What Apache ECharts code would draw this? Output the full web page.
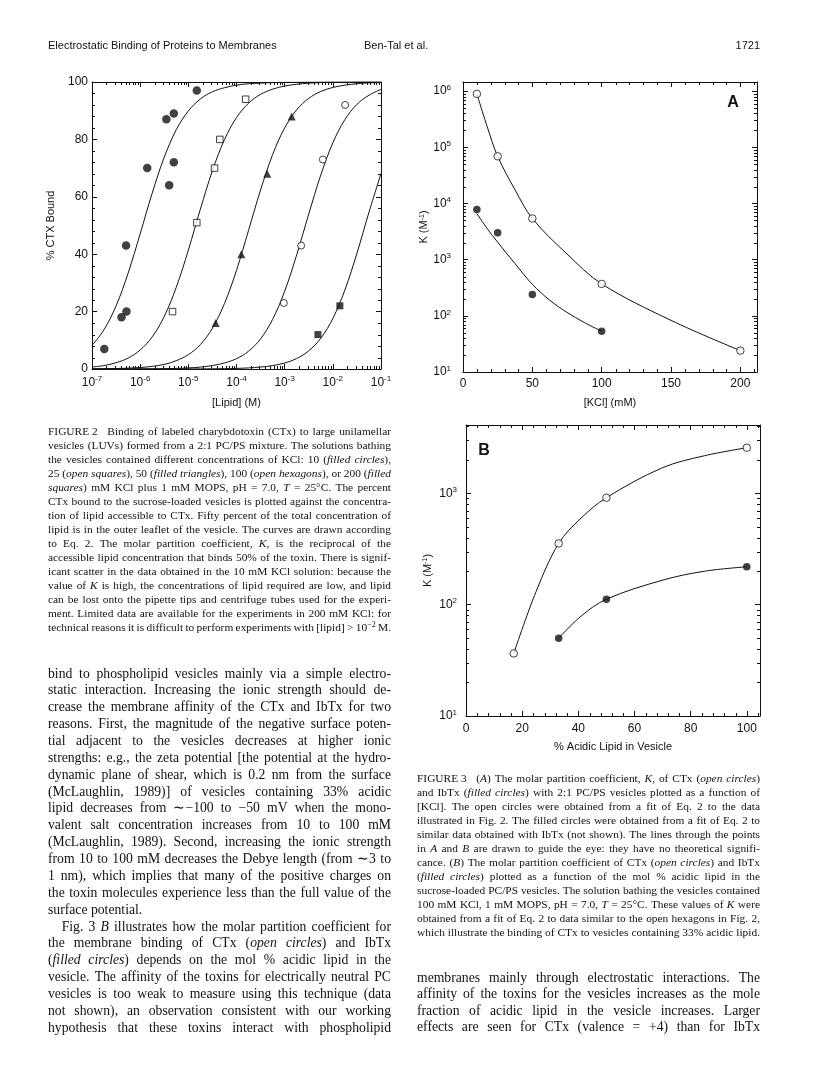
<!DOCTYPE html>
<html><head><meta charset="utf-8">
<script src="https://cdn.jsdelivr.net/npm/echarts@6/dist/echarts.min.js"></script>
<style>html,body{margin:0;padding:0;background:#fff;}#main{width:816px;height:1090px;}</style>
</head><body><div id="main"></div>
<script>
// ================= DATA =================
// Figure 2 : % CTx bound vs [Lipid] (M)
const fig2CurveX = [1e-7,1.778e-7,3.162e-7,5.623e-7,1e-6,1.778e-6,3.162e-6,5.623e-6,1e-5,1.778e-5,3.162e-5,5.623e-5,1e-4,1.778e-4,3.162e-4,5.623e-4,1e-3,1.778e-3,3.162e-3,5.623e-3,1e-2,1.778e-2,3.162e-2,5.623e-2,1e-1];
const fig2Curve10mM  = [8.2,13.7,22.0,33.4,47.1,61.3,73.8,83.4,89.9,94.1,96.6,98.0,98.9,99.4,99.6,99.8,99.9,99.9,100,100,100,100,100,100,100];
const fig2Curve25mM  = [0.7,1.2,2.2,3.8,6.6,11.2,18.3,28.5,41.4,55.7,69.1,79.9,87.6,92.6,95.7,97.5,98.6,99.2,99.6,99.8,99.9,99.9,100,100,100];
const fig2Curve50mM  = [0.05,0.09,0.17,0.29,0.52,0.92,1.6,2.9,5.0,8.5,14.2,22.8,34.4,48.3,62.4,74.7,84.0,90.3,94.3,96.7,98.1,98.9,99.4,99.7,99.8];
const fig2Curve100mM = [0,0.01,0.01,0.02,0.04,0.07,0.12,0.21,0.37,0.66,1.2,2.1,3.6,6.2,10.5,17.3,27.1,39.8,54.0,67.6,78.8,86.9,92.2,95.4,97.4];
const fig2Curve200mM = [0,0,0,0,0,0,0,0,0.02,0.04,0.07,0.12,0.21,0.38,0.67,1.19,2.09,3.66,6.33,10.7,17.6,27.5,40.3,54.6,68.1];

const fig2FilledCirclesX = [1.8e-7,4.1e-7,5.2e-7,5.1e-7,1.4e-6,4.0e-6,3.5e-6,5.0e-6,5.0e-6,1.5e-5];
const fig2FilledCirclesY = [7,18,20,43,70,64,87,89,72,97];
const fig2OpenSquaresX   = [4.7e-6,1.5e-5,3.5e-5,4.5e-5,1.55e-4];
const fig2OpenSquaresY   = [20,51,70,80,94];
const fig2TrianglesX     = [3.7e-5,1.26e-4,4.35e-4,1.4e-3];
const fig2TrianglesY     = [16,40,68,88];
const fig2OpenHexX       = [9.6e-4,2.2e-3,6.2e-3,1.8e-2];
const fig2OpenHexY       = [23,43,73,92];
const fig2FilledSquaresX = [4.9e-3,1.4e-2];
const fig2FilledSquaresY = [12,22];

// Figure 3A : K vs [KCl] (mM)
const fig3aCtxX  = [10,25,50,100,200];
const fig3aCtxK  = [8.9e5,6.9e4,5.4e3,370,24];
const fig3aIbtxX = [10,25,50,100];
const fig3aIbtxK = [7.8e3,3.0e3,240,53];
const fig3aCtxLineX  = [10,17.5,25,37.5,50,75,100,150,200];
const fig3aCtxLineK  = [8.9e5,2.3e5,6.9e4,1.75e4,5.4e3,1.26e3,370,83,24];
const fig3aIbtxLineX = [10,17.5,25,37.5,50,62.5,75,87.5,100];
const fig3aIbtxLineK = [6600,3550,2040,850,363,190,115,76,53];

// Figure 3B : K vs % acidic lipid
const fig3bCtxX  = [17,33,50,100];
const fig3bCtxK  = [36.5,355,914,2570];
const fig3bIbtxX = [33,50,100];
const fig3bIbtxK = [50,112,219];
const fig3bCtxLineX  = [17,25,33,41,50,70,85,100];
const fig3bCtxLineK  = [36.5,132,355,600,914,1700,2180,2570];
const fig3bIbtxLineX = [33,41,50,70,85,100];
const fig3bIbtxLineK = [50,79,112,166,200,219];

// minor tick values
const fig2XMinor = [2e-7,3e-7,4e-7,5e-7,6e-7,7e-7,8e-7,9e-7,2e-6,3e-6,4e-6,5e-6,6e-6,7e-6,8e-6,9e-6,2e-5,3e-5,4e-5,5e-5,6e-5,7e-5,8e-5,9e-5,2e-4,3e-4,4e-4,5e-4,6e-4,7e-4,8e-4,9e-4,2e-3,3e-3,4e-3,5e-3,6e-3,7e-3,8e-3,9e-3,2e-2,3e-2,4e-2,5e-2,6e-2,7e-2,8e-2,9e-2];
const fig2YMinor = [4,8,12,16,24,28,32,36,44,48,52,56,64,68,72,76,84,88,92,96];
const fig3aXMinor = [10,20,30,40,60,70,80,90,110,120,130,140,160,170,180,190,210];
const fig3aYMinor = [20,30,40,50,60,70,80,90,200,300,400,500,600,700,800,900,2e3,3e3,4e3,5e3,6e3,7e3,8e3,9e3,2e4,3e4,4e4,5e4,6e4,7e4,8e4,9e4,2e5,3e5,4e5,5e5,6e5,7e5,8e5,9e5];
const fig3bXMinor = [4,8,12,16,24,28,32,36,44,48,52,56,64,68,72,76,84,88,92,96,104];
const fig3bYMinor = [20,30,40,50,60,70,80,90,200,300,400,500,600,700,800,900,2000,3000,4000];

// texts
const headerLeft = 'Electrostatic Binding of Proteins to Membranes';
const headerMid = 'Ben-Tal et al.';
const headerPage = '1721';
const fig2Caption = [
 'FIGURE\u00a02\u00a0\u00a0 Binding of labeled charybdotoxin (CTx) to large unilamellar',
 'vesicles (LUVs) formed from a 2:1 PC/PS mixture. The solutions bathing',
 'the vesicles contained different concentrations of KCl: 10 (_filled circles_),',
 '25 (_open squares_), 50 (_filled triangles_), 100 (_open hexagons_), or 200 (_filled_',
 '_squares_) mM KCl plus 1 mM MOPS, pH = 7.0, _T_ = 25°C. The percent',
 'CTx bound to the sucrose-loaded vesicles is plotted against the concentra-',
 'tion of lipid accessible to CTx. Fifty percent of the total concentration of',
 'lipid is in the outer leaflet of the vesicle. The curves are drawn according',
 'to Eq. 2. The molar partition coefficient, _K_, is the reciprocal of the',
 'accessible lipid concentration that binds 50% of the toxin. There is signif-',
 'icant scatter in the data obtained in the 10 mM KCl solution: because the',
 'value of _K_ is high, the concentrations of lipid required are low, and lipid',
 'can be lost onto the pipette tips and centrifuge tubes used for the experi-',
 'ment. Limited data are available for the experiments in 200 mM KCl: for',
 'technical reasons it is difficult to perform experiments with [lipid] > 10^{−2} M.'
];
const leftBody = [
 'bind to phospholipid vesicles mainly via a simple electro-',
 'static interaction. Increasing the ionic strength should de-',
 'crease the membrane affinity of the CTx and IbTx for two',
 'reasons. First, the magnitude of the negative surface poten-',
 'tial adjacent to the vesicles decreases at higher ionic',
 'strengths: e.g., the zeta potential [the potential at the hydro-',
 'dynamic plane of shear, which is 0.2 nm from the surface',
 '(McLaughlin, 1989)] of vesicles containing 33% acidic',
 'lipid decreases from \u223c\u2212100 to \u221250 mV when the mono-',
 'valent salt concentration increases from 10 to 100 mM',
 '(McLaughlin, 1989). Second, increasing the ionic strength',
 'from 10 to 100 mM decreases the Debye length (from \u223c3 to',
 '1 nm), which implies that many of the positive charges on',
 'the toxin molecules experience less than the full value of the',
 'surface potential.',
 '\u2003Fig. 3 _B_ illustrates how the molar partition coefficient for',
 'the membrane binding of CTx (_open circles_) and IbTx',
 '(_filled circles_) depends on the mol % acidic lipid in the',
 'vesicle. The affinity of the toxins for electrically neutral PC',
 'vesicles is too weak to measure using this technique (data',
 'not shown), an observation consistent with our working',
 'hypothesis that these toxins interact with phospholipid'
];
const fig3Caption = [
 'FIGURE\u00a03\u00a0\u00a0 (_A_) The molar partition coefficient, _K_, of CTx (_open circles_)',
 'and IbTx (_filled circles_) with 2:1 PC/PS vesicles plotted as a function of',
 '[KCl]. The open circles were obtained from a fit of Eq. 2 to the data',
 'illustrated in Fig. 2. The filled circles were obtained from a fit of Eq. 2 to',
 'similar data obtained with IbTx (not shown). The lines through the points',
 'in _A_ and _B_ are drawn to guide the eye: they have no theoretical signifi-',
 'cance. (_B_) The molar partition coefficient of CTx (_open circles_) and IbTx',
 '(_filled circles_) plotted as a function of the mol % acidic lipid in the',
 'sucrose-loaded PC/PS vesicles. The solution bathing the vesicles contained',
 '100 mM KCl, 1 mM MOPS, pH = 7.0, _T_ = 25°C. These values of _K_ were',
 'obtained from a fit of Eq. 2 to data similar to the open hexagons in Fig. 2,',
 'which illustrate the binding of CTx to vesicles containing 33% acidic lipid.'
];
const rightBody = [
 'membranes mainly through electrostatic interactions. The',
 'affinity of the toxins for the vesicles increases as the mole',
 'fraction of acidic lipid in the vesicle increases. Larger',
 'effects are seen for CTx (valence = +4) than for IbTx'
];

// ================= RENDER =================
const INK = '#111';
const SANS = '"Liberation Sans", Arial, Helvetica, sans-serif';
const SERIF = '"Liberation Serif", "Times New Roman", serif';
const zip = (xs, ys) => xs.map((x, i) => [x, ys[i]]);

// ---------- justified text via measured words ----------
const mctx = document.createElement('canvas').getContext('2d');
function measure(t, size, italic) {
  mctx.font = (italic ? 'italic ' : '') + size + 'px "Liberation Serif"';
  return mctx.measureText(t).width;
}
function parseLine(line) {
  const words = []; let cur = []; let seg = null; let italic = false; let i = 0;
  while (i < line.length) {
    const ch = line[i];
    if (ch === '_') { italic = !italic; seg = null; i++; continue; }
    if (ch === '^' && line[i + 1] === '{') {
      const j = line.indexOf('}', i);
      cur.push({ t: line.slice(i + 2, j), s: 'sup' }); seg = null; i = j + 1; continue;
    }
    if (ch === ' ') { if (cur.length) words.push(cur); cur = []; seg = null; i++; continue; }
    const s = italic ? 'i' : 'n';
    if (seg && seg.s === s) seg.t += ch; else { seg = { t: ch, s: s }; cur.push(seg); }
    i++;
  }
  if (cur.length) words.push(cur);
  return words;
}
function textBlock(lines, x0, width, y0, lh, size, ragged) {
  const els = [];
  const rich = {
    n: { fontFamily: SERIF, fontSize: size, fill: INK, color: INK, lineHeight: Math.round(size * 1.2) },
    i: { fontFamily: SERIF, fontSize: size, fontStyle: 'italic', fill: INK, color: INK, lineHeight: Math.round(size * 1.2) },
    sup: { fontFamily: SERIF, fontSize: Math.round(size * 0.7), fill: INK, color: INK, lineHeight: Math.round(size * 0.7), verticalAlign: 'top' }
  };
  const spaceW = measure(' ', size, false);
  lines.forEach((line, li) => {
    const words = parseLine(line);
    const widths = words.map(w => w.reduce((a, sg) => a + (sg.s === 'sup' ? measure(sg.t, Math.round(size * 0.7), false) : measure(sg.t, size, sg.s === 'i')), 0));
    const total = widths.reduce((a, b) => a + b, 0);
    const justify = ragged.indexOf(li) < 0 && words.length > 1;
    const gap = justify ? (width - total) / (words.length - 1) : spaceW;
    let x = x0;
    const y = y0 + li * lh;
    words.forEach((w, wi) => {
      const txt = w.map(sg => '{' + sg.s + '|' + sg.t + '}').join('');
      els.push({ type: 'text', x: x, y: y, silent: true, style: { text: txt, rich: rich, align: 'left', verticalAlign: 'middle' } });
      x += widths[wi] + gap;
    });
  });
  return els;
}

// ---------- axis helpers ----------
function supLabel(v) {
  const e = Math.log10(v); const r = Math.round(e);
  if (Math.abs(e - r) > 1e-6) return '';
  return '{b|10}{s|' + (r < 0 ? '-' : '') + Math.abs(r) + '}';
}
const supRich = {
  b: { fontFamily: SANS, fontSize: 12, color: INK, lineHeight: 15 },
  s: { fontFamily: SANS, fontSize: 8, color: INK, lineHeight: 8, verticalAlign: 'top' }
};
const lineStyle = { color: INK, width: 1 };
function axis(gridIndex, type, min, max, pos, opts) {
  const a = {
    gridIndex, type, min, max, position: pos,
    axisLine: { show: true, onZero: false, lineStyle },
    axisTick: { show: true, inside: true, length: 5, lineStyle },
    splitLine: { show: false },
    minorTick: { show: false },
    axisLabel: { show: false },
    silent: true
  };
  if (type === 'log') { a.logBase = 10; a.splitNumber = 6; }
  return Object.assign(a, opts || {});
}
function tickSeries(xi, yi, values, dim, ref, len) {
  return {
    type: 'custom', xAxisIndex: xi, yAxisIndex: yi, silent: true, clip: false, z: 6,
    data: values.map(v => dim === 'x' ? [v, ref] : [ref, v]),
    encode: { x: 0, y: 1 },
    renderItem: function (params, api) {
      const cs = params.coordSys;
      const p = api.coord([api.value(0), api.value(1)]);
      const st = { stroke: INK, lineWidth: 1 };
      if (dim === 'x') {
        const x = Math.round(p[0]) + 0.5, b = cs.y + cs.height;
        return { type: 'group', children: [
          { type: 'line', shape: { x1: x, y1: b, x2: x, y2: b - len }, style: st },
          { type: 'line', shape: { x1: x, y1: cs.y, x2: x, y2: cs.y + len }, style: st }] };
      }
      const y = Math.round(p[1]) + 0.5, r = cs.x + cs.width;
      return { type: 'group', children: [
        { type: 'line', shape: { x1: cs.x, y1: y, x2: cs.x + len, y2: y }, style: st },
        { type: 'line', shape: { x1: r, y1: y, x2: r - len, y2: y }, style: st }] };
    }
  };
}
function curve(xi, yi, xs, ys) {
  return { type: 'line', xAxisIndex: xi, yAxisIndex: yi, data: zip(xs, ys), showSymbol: false, symbol: 'none',
    smooth: 0.35, lineStyle: { color: INK, width: 1 }, z: 2, silent: true };
}
function marks(xi, yi, xs, ys, symbol, size, filled) {
  return { type: 'scatter', xAxisIndex: xi, yAxisIndex: yi, data: zip(xs, ys), symbol, symbolSize: size, z: 4, silent: true,
    itemStyle: filled ? { color: INK } : { color: '#fff', borderColor: INK, borderWidth: 1 } };
}
const labelBase = { show: true, color: INK, fontFamily: SANS, fontSize: 12 };
const nameBase = { color: INK, fontFamily: SANS, fontSize: 11 };
const kNameStyle = Object.assign({}, nameBase, { rich: { s: { fontFamily: SANS, fontSize: 7, color: INK, lineHeight: 7, verticalAlign: 'top' } } });

const option = {
  animation: false,
  backgroundColor: '#fff',
  grid: [
    { left: 92, top: 82, width: 289, height: 287 },
    { left: 463, top: 82, width: 294, height: 290 },
    { left: 466, top: 425, width: 294, height: 291 }
  ],
  xAxis: [
    axis(0, 'log', 1e-7, 1e-1, 'bottom', { axisLabel: Object.assign({}, labelBase, { margin: 6, formatter: supLabel, rich: supRich }),
      name: '[Lipid] (M)', nameLocation: 'middle', nameGap: 28, nameTextStyle: nameBase }),
    axis(0, 'log', 1e-7, 1e-1, 'top'),
    axis(1, 'value', 0, 212, 'bottom', { interval: 50, axisLabel: Object.assign({}, labelBase, { margin: 6, formatter: v => (v % 50 === 0 ? String(v) : '') }),
      name: '[KCl] (mM)', nameLocation: 'middle', nameGap: 25, nameTextStyle: nameBase }),
    axis(1, 'value', 0, 212, 'top', { interval: 50 }),
    axis(2, 'value', 0, 104.7, 'bottom', { interval: 20, axisLabel: Object.assign({}, labelBase, { margin: 7, formatter: v => (v % 20 === 0 ? String(v) : '') }),
      name: '% Acidic Lipid in Vesicle', nameLocation: 'middle', nameGap: 25, nameTextStyle: nameBase }),
    axis(2, 'value', 0, 104.7, 'top', { interval: 20 })
  ],
  yAxis: [
    axis(0, 'value', 0, 100, 'left', { interval: 20, axisLabel: Object.assign({}, labelBase, { margin: 4 }),
      name: '% CTX Bound', nameLocation: 'middle', nameGap: 36, nameTextStyle: nameBase }),
    axis(0, 'value', 0, 100, 'right', { interval: 20 }),
    axis(1, 'log', 10, 1.45e6, 'left', { splitNumber: 5, axisLabel: Object.assign({}, labelBase, { margin: 12, formatter: supLabel, rich: supRich }),
      name: 'K (M{s|-1})', nameLocation: 'middle', nameGap: 30, nameTextStyle: kNameStyle }),
    axis(1, 'log', 10, 1.45e6, 'right', { splitNumber: 5 }),
    axis(2, 'log', 10, 4113, 'left', { splitNumber: 5, axisLabel: Object.assign({}, labelBase, { margin: 9, formatter: supLabel, rich: supRich }),
      name: 'K (M{s|-1})', nameLocation: 'middle', nameGap: 33, nameTextStyle: kNameStyle }),
    axis(2, 'log', 10, 4113, 'right', { splitNumber: 5 })
  ],
  series: [
    // Figure 2
    curve(0, 0, fig2CurveX, fig2Curve10mM),
    curve(0, 0, fig2CurveX, fig2Curve25mM),
    curve(0, 0, fig2CurveX, fig2Curve50mM),
    curve(0, 0, fig2CurveX, fig2Curve100mM),
    curve(0, 0, fig2CurveX, fig2Curve200mM),
    marks(0, 0, fig2FilledCirclesX, fig2FilledCirclesY, 'circle', 8.5, true),
    marks(0, 0, fig2OpenSquaresX, fig2OpenSquaresY, 'rect', 6.5, false),
    marks(0, 0, fig2TrianglesX, fig2TrianglesY, 'triangle', 8, true),
    marks(0, 0, fig2OpenHexX, fig2OpenHexY, 'circle', 7, false),
    marks(0, 0, fig2FilledSquaresX, fig2FilledSquaresY, 'rect', 7, true),
    tickSeries(0, 0, fig2XMinor, 'x', 50, 3),
    tickSeries(0, 0, fig2YMinor, 'y', 1e-4, 3),
    // Figure 3A
    curve(2, 2, fig3aCtxLineX, fig3aCtxLineK),
    curve(2, 2, fig3aIbtxLineX, fig3aIbtxLineK),
    marks(2, 2, fig3aCtxX, fig3aCtxK, 'circle', 7.5, false),
    marks(2, 2, fig3aIbtxX, fig3aIbtxK, 'circle', 7.5, true),
    tickSeries(2, 2, fig3aXMinor, 'x', 100, 3),
    tickSeries(2, 2, fig3aYMinor, 'y', 100, 3),
    // Figure 3B
    curve(4, 4, fig3bCtxLineX, fig3bCtxLineK),
    curve(4, 4, fig3bIbtxLineX, fig3bIbtxLineK),
    marks(4, 4, fig3bCtxX, fig3bCtxK, 'circle', 7.5, false),
    marks(4, 4, fig3bIbtxX, fig3bIbtxK, 'circle', 7.5, true),
    tickSeries(4, 4, fig3bXMinor, 'x', 100, 3),
    tickSeries(4, 4, fig3bYMinor, 'y', 50, 3)
  ],
  graphic: { elements: [] }
};

const g = option.graphic.elements;
g.push({ type: 'text', x: 48, y: 46, silent: true, style: { text: headerLeft, fontFamily: SANS, fontSize: 11, fill: INK, align: 'left', verticalAlign: 'middle' } });
g.push({ type: 'text', x: 364, y: 46, silent: true, style: { text: headerMid, fontFamily: SANS, fontSize: 11, fill: INK, align: 'left', verticalAlign: 'middle' } });
g.push({ type: 'text', x: 760, y: 46, silent: true, style: { text: headerPage, fontFamily: SANS, fontSize: 11, fill: INK, align: 'right', verticalAlign: 'middle' } });
g.push({ type: 'text', x: 733, y: 103, silent: true, style: { text: 'A', fontFamily: SANS, fontSize: 16, fontWeight: 'bold', fill: INK, align: 'center', verticalAlign: 'middle' } });
g.push({ type: 'text', x: 484, y: 451, silent: true, style: { text: 'B', fontFamily: SANS, fontSize: 16, fontWeight: 'bold', fill: INK, align: 'center', verticalAlign: 'middle' } });
textBlock(fig2Caption, 48, 343, 432, 14.0, 11.4, []).forEach(e => g.push(e));
textBlock(leftBody, 48, 343, 674, 16.86, 13.7, [14]).forEach(e => g.push(e));
textBlock(fig3Caption, 417, 343, 779, 14.0, 11.4, []).forEach(e => g.push(e));
textBlock(rightBody, 417, 343, 978, 16.55, 13.7, []).forEach(e => g.push(e));

const chart = echarts.init(document.getElementById('main'), null, { renderer: 'canvas' });
chart.setOption(option);
</script>
</body></html>
